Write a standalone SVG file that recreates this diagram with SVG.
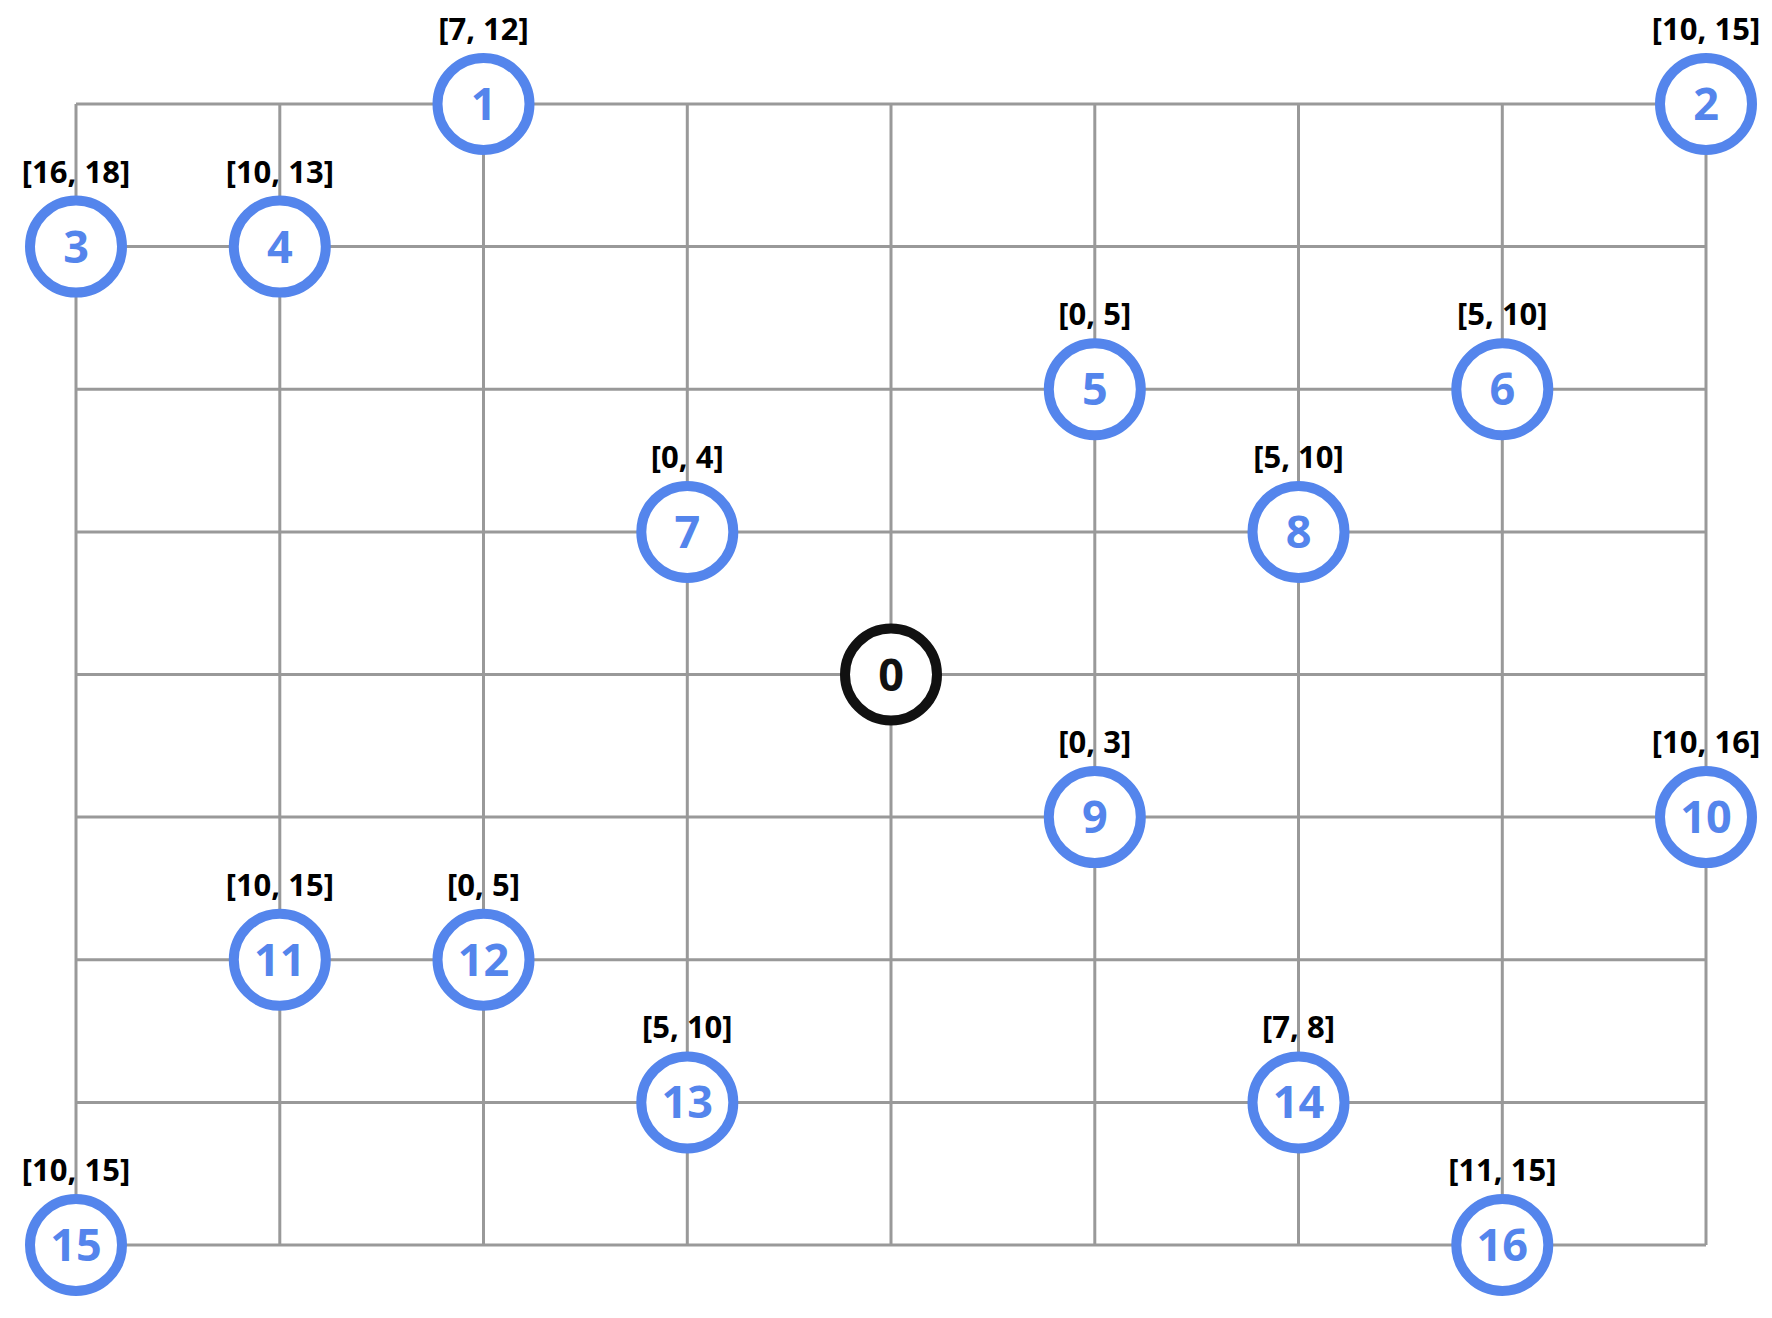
<svg xmlns="http://www.w3.org/2000/svg" width="1772" height="1318" viewBox="0 0 1772 1318">
<style>
.g{stroke:#999999;stroke-width:3;fill:none}
.n{fill:#ffffff;stroke:#5485ec;stroke-width:10}
.n0{fill:#ffffff;stroke:#111111;stroke-width:10}
.t{font-family:"Open Sans","Noto Sans","DejaVu Sans",sans-serif;font-weight:700;font-size:45px;fill:#5485ec;text-anchor:middle}
.t0{fill:#111111}
.l{font-family:"Open Sans","Noto Sans","DejaVu Sans",sans-serif;font-weight:700;font-size:31px;fill:#000000;text-anchor:middle}
</style>
<rect width="1772" height="1318" fill="#ffffff"/>
<g id="connectors">
<line class="g" x1="76" y1="104" x2="1706" y2="104"/>
<line class="g" x1="76" y1="246.6" x2="1706" y2="246.6"/>
<line class="g" x1="76" y1="389.3" x2="1706" y2="389.3"/>
<line class="g" x1="76" y1="531.9" x2="1706" y2="531.9"/>
<line class="g" x1="76" y1="674.5" x2="1706" y2="674.5"/>
<line class="g" x1="76" y1="817.1" x2="1706" y2="817.1"/>
<line class="g" x1="76" y1="959.8" x2="1706" y2="959.8"/>
<line class="g" x1="76" y1="1102.4" x2="1706" y2="1102.4"/>
<line class="g" x1="76" y1="1245" x2="1706" y2="1245"/>
<line class="g" x1="76" y1="104" x2="76" y2="1245"/>
<line class="g" x1="279.8" y1="104" x2="279.8" y2="1245"/>
<line class="g" x1="483.5" y1="104" x2="483.5" y2="1245"/>
<line class="g" x1="687.3" y1="104" x2="687.3" y2="1245"/>
<line class="g" x1="891" y1="104" x2="891" y2="1245"/>
<line class="g" x1="1094.8" y1="104" x2="1094.8" y2="1245"/>
<line class="g" x1="1298.5" y1="104" x2="1298.5" y2="1245"/>
<line class="g" x1="1502.3" y1="104" x2="1502.3" y2="1245"/>
<line class="g" x1="1706" y1="104" x2="1706" y2="1245"/>
</g>
<g id="node0"><circle class="n0" cx="891" cy="674.5" r="46"/><text class="t t0" x="891" y="690.5">0</text></g>
<g id="node1"><circle class="n" cx="483.5" cy="104" r="46"/><text class="t" x="483.5" y="120">1</text><text class="l" x="483.5" y="40">[7, 12]</text></g>
<g id="node2"><circle class="n" cx="1706" cy="104" r="46"/><text class="t" x="1706" y="120">2</text><text class="l" x="1706" y="40">[10, 15]</text></g>
<g id="node3"><circle class="n" cx="76" cy="246.6" r="46"/><text class="t" x="76" y="262.6">3</text><text class="l" x="76" y="182.6">[16, 18]</text></g>
<g id="node4"><circle class="n" cx="279.8" cy="246.6" r="46"/><text class="t" x="279.8" y="262.6">4</text><text class="l" x="279.8" y="182.6">[10, 13]</text></g>
<g id="node5"><circle class="n" cx="1094.8" cy="389.3" r="46"/><text class="t" x="1094.8" y="405.3">5</text><text class="l" x="1094.8" y="325.3">[0, 5]</text></g>
<g id="node6"><circle class="n" cx="1502.3" cy="389.3" r="46"/><text class="t" x="1502.3" y="405.3">6</text><text class="l" x="1502.3" y="325.3">[5, 10]</text></g>
<g id="node7"><circle class="n" cx="687.3" cy="531.9" r="46"/><text class="t" x="687.3" y="547.9">7</text><text class="l" x="687.3" y="467.9">[0, 4]</text></g>
<g id="node8"><circle class="n" cx="1298.5" cy="531.9" r="46"/><text class="t" x="1298.5" y="547.9">8</text><text class="l" x="1298.5" y="467.9">[5, 10]</text></g>
<g id="node9"><circle class="n" cx="1094.8" cy="817.1" r="46"/><text class="t" x="1094.8" y="833.1">9</text><text class="l" x="1094.8" y="753.1">[0, 3]</text></g>
<g id="node10"><circle class="n" cx="1706" cy="817.1" r="46"/><text class="t" x="1706" y="833.1">10</text><text class="l" x="1706" y="753.1">[10, 16]</text></g>
<g id="node11"><circle class="n" cx="279.8" cy="959.8" r="46"/><text class="t" x="279.8" y="975.8">11</text><text class="l" x="279.8" y="895.8">[10, 15]</text></g>
<g id="node12"><circle class="n" cx="483.5" cy="959.8" r="46"/><text class="t" x="483.5" y="975.8">12</text><text class="l" x="483.5" y="895.8">[0, 5]</text></g>
<g id="node13"><circle class="n" cx="687.3" cy="1102.4" r="46"/><text class="t" x="687.3" y="1118.4">13</text><text class="l" x="687.3" y="1038.4">[5, 10]</text></g>
<g id="node14"><circle class="n" cx="1298.5" cy="1102.4" r="46"/><text class="t" x="1298.5" y="1118.4">14</text><text class="l" x="1298.5" y="1038.4">[7, 8]</text></g>
<g id="node15"><circle class="n" cx="76" cy="1245" r="46"/><text class="t" x="76" y="1261">15</text><text class="l" x="76" y="1181">[10, 15]</text></g>
<g id="node16"><circle class="n" cx="1502.3" cy="1245" r="46"/><text class="t" x="1502.3" y="1261">16</text><text class="l" x="1502.3" y="1181">[11, 15]</text></g>
</svg>
